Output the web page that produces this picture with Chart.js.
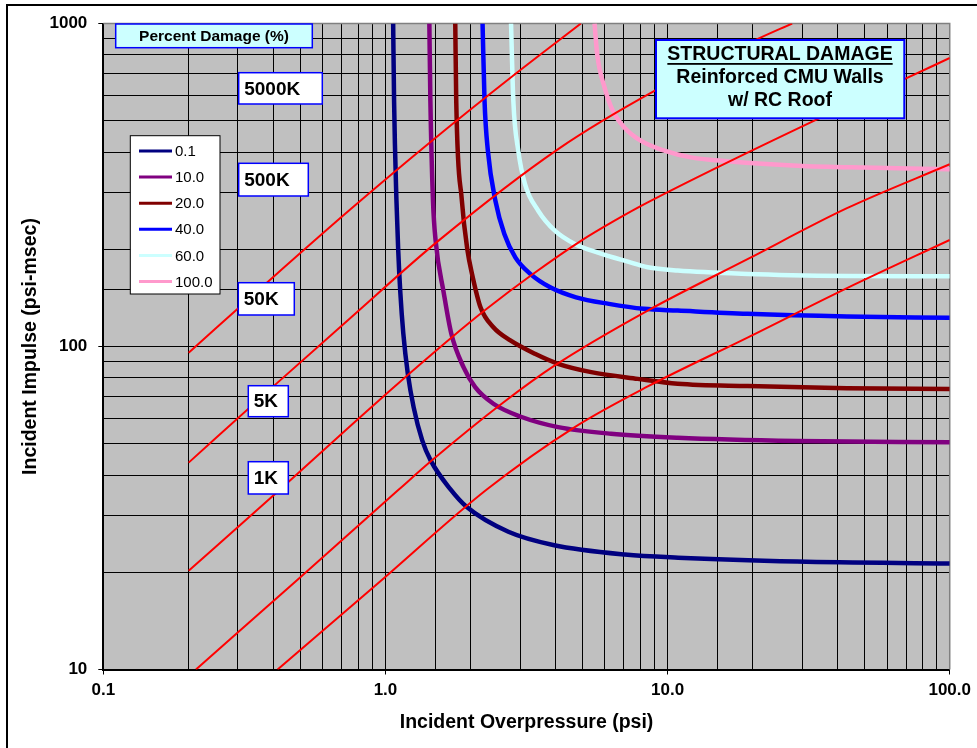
<!DOCTYPE html>
<html>
<head>
<meta charset="utf-8">
<title>Structural Damage - Reinforced CMU Walls w/ RC Roof</title>
<script src="https://cdn.jsdelivr.net/npm/chart.js@4.4.1/dist/chart.umd.min.js"></script>
<style>
  html, body { margin: 0; padding: 0; background: #fff; }
  #wrap { width: 977px; height: 748px; }
</style>
</head>
<body>
<div id="wrap"><canvas id="damageChart" width="977" height="748"></canvas></div>
<script>
// pressure-impulse damage curves, [overpressure (psi), impulse (psi-msec)]
const damageLevels = ["0.1", "10.0", "20.0", "40.0", "60.0", "100.0"];
const damageColors = ["#000080", "#800080", "#800000", "#0000FF", "#CCFFFF", "#FF99CC"];

const damage0_1 = [[1.065, 1000], [1.073, 576], [1.094, 283], [1.110, 198], [1.129, 147], [1.157, 109.7], [1.200, 82.5], [1.259, 64.8], [1.350, 51.2], [1.446, 44.4], [1.701, 36.1], [1.938, 31.9], [2.727, 26.7], [3.93, 24.3], [7.06, 22.7], [10.9, 22.2], [28.8, 21.6], [100, 21.3]];
const damage10 = [[1.431, 1000], [1.443, 576], [1.474, 283], [1.506, 212.7], [1.608, 147.2], [1.711, 109.7], [1.891, 86.3], [2.080, 74.8], [2.413, 66.5], [3.038, 60.5], [4.094, 56.3], [6.298, 53.7], [10.86, 52.2], [28.8, 51.0], [100, 50.5]];
const damage20 = [[1.768, 1000], [1.782, 576], [1.866, 283], [1.954, 198], [2.027, 167.8], [2.172, 132.3], [2.413, 114.7], [2.771, 104.4], [3.387, 94.9], [4.094, 88.4], [5.365, 83.3], [7.838, 79.4], [10.86, 76.7], [19.2, 75.4], [43.2, 74.3], [100, 73.8]];
const damage40 = [[2.209, 1000], [2.245, 576], [2.307, 403.6], [2.453, 282.7], [2.639, 223], [2.886, 188.8], [3.261, 167.8], [3.836, 152.5], [4.739, 142], [6.196, 135.5], [8.234, 130.8], [10.86, 129.2], [19.2, 126.2], [43.2, 123.8], [100, 122.7]];
const damage60 = [[2.787, 1000], [2.840, 576], [2.957, 403.6], [3.123, 318.4], [3.479, 263.3], [3.985, 228.4], [4.689, 207.7], [5.666, 195.3], [7.231, 183.1], [8.505, 175.9], [10.86, 171.8], [19.2, 167.8], [43.2, 165.4], [100, 164.9]];
const damage100 = [[5.51, 1000], [5.63, 803], [5.98, 633], [6.40, 536], [7.04, 476], [8.06, 433], [9.74, 404], [12.1, 385], [16.7, 374], [28.8, 363], [49.5, 358], [100, 354]];

// charge weight lines (lbs TNT)
const chargeLabels = ["5000K", "500K", "50K", "5K", "1K"];
const charge5000K = [[0.2007, 95.6], [0.3878, 160.2], [0.7428, 263.7], [1.423, 425.3], [2.840, 690.2], [4.93, 1000]];
const charge500K = [[0.2007, 43.7], [0.3878, 73.4], [0.7428, 121.5], [1.543, 212.7], [4.094, 408.5], [8.983, 618.5], [20.51, 889.3], [27.64, 1000]];
const charge50K = [[0.2007, 20.2], [0.3951, 34.2], [0.948, 68.1], [1.720, 106.8], [2.286, 130.8], [3.314, 167.0], [4.946, 212.7], [6.490, 245.2], [8.505, 279.3], [32.98, 499.5], [67.58, 666.3], [100, 782.2]];
const charge5K = [[0.2130, 10], [0.4948, 19.18], [1.115, 36.06], [1.462, 44.43], [2.582, 66.5], [3.985, 87.4], [8.505, 129.2], [19.20, 186.4], [43.23, 268.0], [100, 366.6]];
const charge1K = [[0.4147, 10], [0.948, 18.58], [2.286, 36.06], [4.689, 56.3], [8.505, 75.2], [19.20, 106.6], [43.23, 151.6], [100, 213.7]];

// major tick labels
const xTickValues = [0.1, 1, 10, 100];
const xTickText = ["0.1", "1.0", "10.0", "100.0"];
const yTickValues = [10, 100, 1000];
const yTickText = ["10", "100", "1000"];

const FONT = "'Liberation Sans', Arial, Helvetica, sans-serif";
Chart.defaults.font.family = FONT;
Chart.defaults.color = "#000";

const toXY = (pts) => pts.map(([x, y]) => ({ x, y }));
const matchTick = (values, v) => values.findIndex((t) => Math.abs(t - v) < t * 1e-6);

const damageSeries = [damage0_1, damage10, damage20, damage40, damage60, damage100];
const chargeSeries = [charge5000K, charge500K, charge50K, charge5K, charge1K];

const datasets = [];
chargeSeries.forEach((pts, i) => {
  datasets.push({
    label: chargeLabels[i],
    data: toXY(pts),
    borderColor: "#FF0000",
    borderWidth: 2,
    cubicInterpolationMode: "monotone",
    order: 0,
    isCharge: true,
  });
});
damageSeries.forEach((pts, i) => {
  datasets.push({
    label: damageLevels[i],
    data: toXY(pts),
    borderColor: damageColors[i],
    borderWidth: 4.5,
    cubicInterpolationMode: "monotone",
    order: 1,
  });
});

// boxed tags: [x, y, w, h] in canvas pixels
const tagBoxes = [
  [238.7, 72.7, 83.6, 31.3],
  [238.7, 163.3, 69.6, 32.7],
  [238.3, 282.7, 56, 32.3],
  [248.3, 385.7, 40, 31],
  [248.3, 461.7, 40, 32.3],
];

function box(ctx, x, y, w, h, fill, stroke, lw) {
  ctx.fillStyle = fill;
  ctx.fillRect(x, y, w, h);
  ctx.strokeStyle = stroke;
  ctx.lineWidth = lw;
  ctx.strokeRect(x, y, w, h);
}

const plotFrame = {
  id: "plotFrame",
  beforeDraw(chart) {
    const { ctx, chartArea: a } = chart;
    ctx.save();
    ctx.fillStyle = "#fff";
    ctx.fillRect(0, 0, chart.width, chart.height);
    ctx.fillStyle = "#C0C0C0";
    ctx.fillRect(a.left, a.top, a.right - a.left, a.bottom - a.top);
    ctx.restore();
  },
  beforeDatasetsDraw(chart) {
    // grey edge along top and right of the plot
    const { ctx, chartArea: a } = chart;
    ctx.save();
    ctx.strokeStyle = "#808080";
    ctx.lineWidth = 1.5;
    ctx.beginPath();
    ctx.moveTo(a.left, a.top);
    ctx.lineTo(a.right, a.top);
    ctx.lineTo(a.right, a.bottom);
    ctx.stroke();
    ctx.restore();
  },
  afterDraw(chart) {
    const { ctx } = chart;
    ctx.save();
    ctx.strokeStyle = "#000";
    ctx.lineWidth = 2;
    ctx.strokeRect(7, 5, chart.width + 20, chart.height + 20);
    ctx.restore();
  },
};

const annotations = {
  id: "annotations",
  afterDatasetsDraw(chart) {
    const { ctx } = chart;
    ctx.save();
    ctx.textBaseline = "middle";

    // "Percent Damage (%)" header
    box(ctx, 115.7, 24, 196.6, 23.7, "#CCFFFF", "#0000FF", 1.5);
    ctx.fillStyle = "#000";
    ctx.font = "bold 15.5px " + FONT;
    ctx.textAlign = "center";
    ctx.fillText("Percent Damage (%)", 214, 36.5);

    // title block
    box(ctx, 656, 40, 248.3, 78.3, "#CCFFFF", "#0000FF", 2);
    ctx.fillStyle = "#000";
    ctx.font = "bold 19.5px " + FONT;
    const cx = 780;
    const head = "STRUCTURAL DAMAGE";
    ctx.fillText(head, cx, 55);
    const hw = ctx.measureText(head).width;
    ctx.fillRect(cx - hw / 2, 63, hw, 1.8);
    ctx.fillText("Reinforced CMU Walls", cx, 78);
    ctx.fillText("w/ RC Roof", cx, 100.5);

    // charge weight tags
    ctx.textAlign = "left";
    ctx.font = "bold 19px " + FONT;
    tagBoxes.forEach(([x, y, w, h], i) => {
      box(ctx, x, y, w, h, "#fff", "#0000FF", 1.5);
      ctx.fillStyle = "#000";
      ctx.fillText(chargeLabels[i], x + 5.5, y + h / 2 + 1);
    });

    // legend for the damage curves
    box(ctx, 130.3, 135.7, 89.7, 158.3, "#fff", "#000", 1);
    ctx.font = "15px " + FONT;
    const items = chart.data.datasets.filter((d) => !d.isCharge);
    items.forEach((d, i) => {
      const y = 151 + i * 26.1;
      ctx.strokeStyle = d.borderColor;
      ctx.lineWidth = 3;
      ctx.beginPath();
      ctx.moveTo(139, y);
      ctx.lineTo(172, y);
      ctx.stroke();
      ctx.fillStyle = "#000";
      ctx.fillText(d.label, 175, y + 1);
    });
    ctx.restore();
  },
};

const majorColor = (values) => (c) =>
  c.tick && matchTick(values, c.tick.value) >= 0 ? "#000" : "rgba(0,0,0,0)";

new Chart(document.getElementById("damageChart"), {
  type: "scatter",
  data: { datasets: datasets },
  options: {
    responsive: false,
    animation: false,
    devicePixelRatio: 1,
    showLine: true,
    layout: { padding: { top: 23.5, right: 24, left: 0, bottom: 0 } },
    elements: {
      point: { radius: 0, hoverRadius: 0 },
      line: { fill: false },
    },
    datasets: { scatter: { clip: 0 } },
    plugins: {
      legend: { display: false },
      tooltip: { enabled: false },
    },
    scales: {
      x: {
        type: "logarithmic",
        min: 0.1,
        max: 100,
        afterFit: (s) => { s.height = 78.5; },
        grid: {
          color: "#000",
          lineWidth: 1,
          tickLength: 5,
          tickColor: majorColor(xTickValues),
        },
        border: { color: "#000", width: 2 },
        ticks: {
          autoSkip: false,
          maxRotation: 0,
          minRotation: 0,
          padding: 6,
          font: { size: 17, weight: "bold" },
          callback: (v) => {
            const i = matchTick(xTickValues, v);
            return i >= 0 ? xTickText[i] : "";
          },
        },
        title: {
          display: true,
          text: "Incident Overpressure (psi)",
          font: { size: 19.5, weight: "bold" },
          padding: { top: 0, bottom: 13.3 },
        },
      },
      y: {
        type: "logarithmic",
        min: 10,
        max: 1000,
        afterFit: (s) => { s.width = 103.3; },
        grid: {
          color: "#000",
          lineWidth: 1,
          tickLength: 5,
          tickColor: majorColor(yTickValues),
        },
        border: { color: "#000", width: 2 },
        ticks: {
          autoSkip: false,
          padding: 11,
          font: { size: 17, weight: "bold" },
          callback: (v) => {
            const i = matchTick(yTickValues, v);
            return i >= 0 ? yTickText[i] : "";
          },
        },
        title: {
          display: true,
          text: "Incident Impulse (psi-msec)",
          font: { size: 19.5, weight: "bold" },
          padding: { top: 19.3, bottom: 0 },
        },
      },
    },
  },
  plugins: [plotFrame, annotations],
});
</script>
</body>
</html>
